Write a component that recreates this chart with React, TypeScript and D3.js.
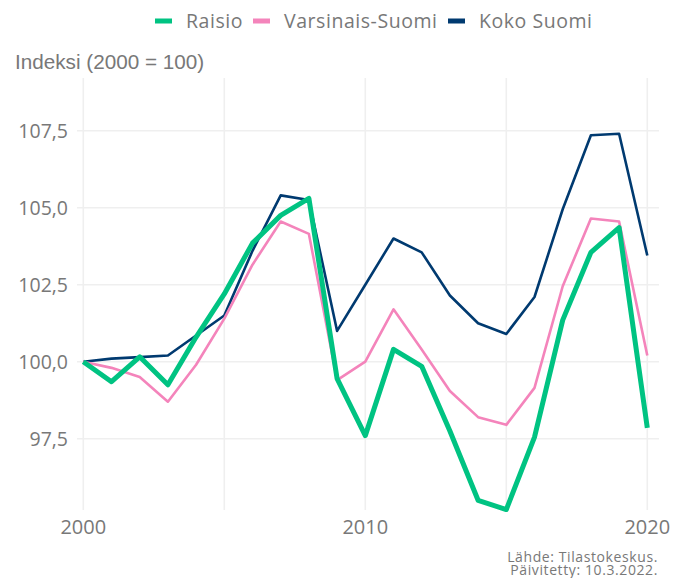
import React from "react";
import * as d3 from "d3";

const years = d3.range(2000, 2021);
const raisio = [100.0, 99.35, 100.16, 99.25, 100.8, 102.2, 103.85, 104.75, 105.3, 99.45, 97.6, 100.4, 99.85, 97.75, 95.5, 95.2, 97.55, 101.35, 103.55, 104.35, 97.85];
const varsinais = [100.0, 99.8, 99.5, 98.7, 99.9, 101.4, 103.15, 104.55, 104.15, 99.4, 100.0, 101.7, 100.4, 99.05, 98.2, 97.95, 99.15, 102.45, 104.65, 104.55, 100.2];
const koko = [100.0, 100.1, 100.15, 100.2, 100.85, 101.5, 103.6, 105.4, 105.25, 101.0, 102.5, 104.0, 103.55, 102.15, 101.25, 100.9, 102.1, 104.95, 107.35, 107.4, 103.45];

const yTicks = [97.5, 100, 102.5, 105, 107.5];
const xTicks = [2000, 2010, 2020];
const xGrid = [2000, 2005, 2010, 2015, 2020];

const seriesNames = ["Raisio", "Varsinais-Suomi", "Koko Suomi"];
const seriesColors = ["#00c382", "#f484bb", "#003a70"];
const seriesWidths = [5, 2.6, 2.6];

const W = 685;
const H = 578;
const panel = { left: 77, right: 659, top: 78, bottom: 510 };

export default function App() {
  const x = d3.scaleLinear().domain([2000, 2020]).range([83.3, 647.3]);
  const y = d3.scaleLinear().domain([97.5, 107.5]).range([438.7, 130.7]);
  const line = d3
    .line<number>()
    .x((_, i) => x(years[i]))
    .y((d) => y(d));
  const data = [raisio, varsinais, koko];
  const fmt = (v: number) => v.toFixed(1).replace(".", ",");
  const textColor = "#787878";
  const font = "'Open Sans', Lato, sans-serif";

  const legendX = [155, 253, 448];
  const legendTextX = [186, 284, 479];

  return (
    <svg
      width={W}
      height={H}
      style={{ position: "absolute", left: 0, top: 0, background: "#fff" }}
    >
      {/* grid */}
      {yTicks.map((t) => (
        <line
          key={"gy" + t}
          x1={panel.left}
          x2={panel.right}
          y1={y(t)}
          y2={y(t)}
          stroke="#efefef"
          strokeWidth={1.6}
        />
      ))}
      {xGrid.map((t) => (
        <line
          key={"gx" + t}
          x1={x(t)}
          x2={x(t)}
          y1={panel.top}
          y2={panel.bottom}
          stroke="#efefef"
          strokeWidth={1.6}
        />
      ))}
      {/* y tick labels */}
      {yTicks.map((t) => (
        <text
          key={"ty" + t}
          x={68}
          y={y(t)}
          dy="0.36em"
          textAnchor="end"
          fontFamily={font}
          fontWeight={400}
          fontSize={19.5}
          fill={textColor}
        >
          {fmt(t)}
        </text>
      ))}
      {/* x tick labels */}
      {xTicks.map((t) => (
        <text
          key={"tx" + t}
          x={x(t)}
          y={534}
          textAnchor="middle"
          fontFamily={font}
          fontWeight={400}
          fontSize={20}
          fill={textColor}
        >
          {t}
        </text>
      ))}
      {/* lines */}
      {[2, 1, 0].map((i) => (
        <path
          key={"l" + i}
          d={line(data[i]) || ""}
          fill="none"
          stroke={seriesColors[i]}
          strokeWidth={seriesWidths[i]}
          strokeLinejoin="round"
        />
      ))}
      {/* y title */}
      <text
        x={15}
        y={69}
        fontFamily="'Liberation Sans', Arial, sans-serif"
        fontWeight={400}
        fontSize={20.7}
        fill={textColor}
      >
        Indeksi (2000 = 100)
      </text>
      {/* legend */}
      {seriesNames.map((n, i) => (
        <g key={"lg" + i}>
          <rect
            x={legendX[i]}
            y={18.5}
            width={17}
            height={5}
            fill={seriesColors[i]}
          />
          <text
            x={legendTextX[i]}
            y={28}
            fontFamily={font}
            fontWeight={400}
            fontSize={19.5}
            letterSpacing={0.55}
            fill={textColor}
          >
            {n}
          </text>
        </g>
      ))}
      {/* caption */}
      <text
        x={658}
        y={561.5}
        textAnchor="end"
        fontFamily={font}
        fontWeight={400}
        fontSize={14}
        letterSpacing={0.6}
        fill={textColor}
      >
        Lähde: Tilastokeskus.
      </text>
      <text
        x={658}
        y={575}
        textAnchor="end"
        fontFamily={font}
        fontWeight={400}
        fontSize={14}
        letterSpacing={0.6}
        fill={textColor}
      >
        Päivitetty: 10.3.2022.
      </text>
    </svg>
  );
}
